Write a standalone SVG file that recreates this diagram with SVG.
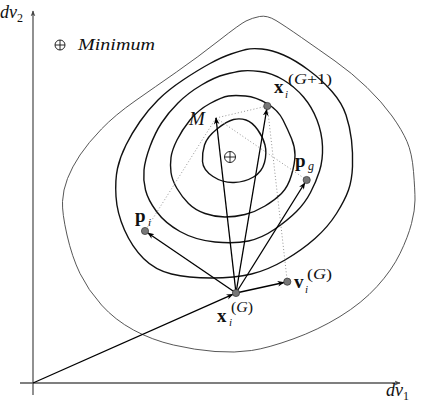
<svg xmlns="http://www.w3.org/2000/svg" width="432" height="406" viewBox="0 0 432 406">
<style>
.c{fill:none;stroke:#111;stroke-width:1.4;stroke-linejoin:round}
.co{fill:none;stroke:#444;stroke-width:0.9;stroke-linejoin:round}
.ax{stroke:#555;stroke-width:1.3;fill:none}
.ar{stroke:#000;stroke-width:1.3;fill:none}
.dt{stroke:#888;stroke-width:0.9;stroke-dasharray:1 2.2;fill:none}
.dot{fill:#777;stroke:#333;stroke-width:0.7}
.t{font-family:"Liberation Serif",serif;fill:#111}
.b{font-weight:bold;font-size:19px}
.i{font-style:italic}
</style>
<defs>
<marker id="ah" viewBox="0 0 10 10" refX="9" refY="5" markerWidth="7" markerHeight="7" markerUnits="userSpaceOnUse" orient="auto"><path d="M0,1 L10,5 L0,9 L3,5 z" fill="#000"/></marker>
<marker id="ahg" viewBox="0 0 10 10" refX="9" refY="5" markerWidth="6" markerHeight="6" markerUnits="userSpaceOnUse" orient="auto"><path d="M0,1 L10,5 L0,9 L3,5 z" fill="#444"/></marker>
</defs>
<g id="axes">
<line class="ax" x1="33" y1="395" x2="33" y2="11" marker-end="url(#ahg)"/>
<line class="ax" x1="20" y1="383" x2="400" y2="383" marker-end="url(#ahg)"/>
<text class="t i" x="0" y="18" font-size="18">dv<tspan font-style="normal" font-size="12" dy="4">2</tspan></text>
<text class="t i" x="386" y="396" font-size="18">dv<tspan font-style="normal" font-size="12" dy="4">1</tspan></text>
</g>
<g id="legend">
<circle cx="60" cy="45" r="5" fill="none" stroke="#111" stroke-width="0.9"/>
<path d="M55,45 H65 M60,40 V50" stroke="#111" stroke-width="0.9"/>
<text class="t i" x="78" y="50" font-size="17" textLength="77" lengthAdjust="spacingAndGlyphs">Minimum</text>
</g>
<g id="contours">
<path class="co" d="M276,20.5 Q285,26 301.5,37.5 Q318,49 335,61 Q352,73 367,87.5 Q382,102 392,116 Q402,130 407,141.5 Q412,153 413.5,171.5 Q415,190 415,200 Q415,210 411.5,223.5 Q408,237 400,253.5 Q392,270 377,286.5 Q362,303 340,316.5 Q318,330 293,339 Q268,348 251.5,350.5 Q235,353 215,351.5 Q195,350 173.5,345 Q152,340 133.5,330 Q115,320 101.5,305 Q88,290 80,273.5 Q72,257 67,235 Q62,213 62.5,201.5 Q63,190 67.5,178.5 Q72,167 80,155 Q88,143 101.5,129 Q115,115 135,101 Q155,87 176.5,72 Q198,57 219,40.5 Q240,24 246,21 Q252,18 259.5,16.5 Q267,15 276,20.5 Z"/>
<path class="c" d="M262,49 Q272,50 283.5,55 Q295,60 308.5,70 Q322,80 332,91.5 Q342,103 346,115 Q350,127 351.5,140 Q353,153 352.5,166.5 Q352,180 348.5,190 Q345,200 336.5,213.5 Q328,227 315,238.5 Q302,250 285,260 Q268,270 251.5,274 Q235,278 211.5,278 Q188,278 171.5,274 Q155,270 143.5,258.5 Q132,247 124.5,230 Q117,213 116,196.5 Q115,180 117.5,168.5 Q120,157 126,145 Q132,133 140,121.5 Q148,110 158,100 Q168,90 183,80 Q198,70 210,63.5 Q222,57 231,54 Q240,51 246,49.5 Q252,48 262,49 Z"/>
<path class="c" d="M260,71.5 Q272,73 283.5,80 Q295,87 303.5,97 Q312,107 317,120 Q322,133 322.5,146.5 Q323,160 319.5,171 Q316,182 310.5,192.5 Q305,203 296.5,211.5 Q288,220 275,229 Q262,238 248.5,241 Q235,244 215,242 Q195,240 180,231.5 Q165,223 156.5,211.5 Q148,200 145.5,190 Q143,180 144,170 Q145,160 150,146.5 Q155,133 161.5,123 Q168,113 178,103 Q188,93 201.5,85 Q215,77 225,74.5 Q235,72 241.5,71 Q248,70 260,71.5 Z"/>
<path class="c" d="M245.5,96 Q256,97 267,103.5 Q278,110 283,120 Q288,130 291.5,138.5 Q295,147 295,155 Q295,163 291.5,175 Q288,187 281.5,193.5 Q275,200 265,206 Q255,212 245,214.5 Q235,217 225,217 Q215,217 205,213.5 Q195,210 188.5,203.5 Q182,197 177,188.5 Q172,180 171,172.5 Q170,165 171,157.5 Q172,150 177,140 Q182,130 190,120 Q198,110 210,103.5 Q222,97 228.5,96 Q235,95 245.5,96 Z"/>
<path class="c" d="M233.5,119.5 Q240,118 246,120 Q252,122 257.5,129.5 Q263,137 265,145 Q267,153 264.5,162.5 Q262,172 253.5,177 Q245,182 234,182.5 Q223,183 213,176.5 Q203,170 202.5,161.5 Q202,153 204.5,145 Q207,137 217,129 Q227,121 233.5,119.5 Z"/>
</g>
<g id="minimum">
<circle cx="230" cy="157" r="5.5" fill="none" stroke="#111" stroke-width="0.9"/>
<path d="M224.5,157 H235.5 M230,151.5 V162.5" stroke="#111" stroke-width="0.9"/>
</g>
<g id="connectors">
<line class="dt" x1="216" y1="118" x2="267.3" y2="106"/>
<line class="dt" x1="216" y1="118" x2="145" y2="231"/>
<line class="dt" x1="216" y1="118" x2="306.7" y2="180"/>
<line class="dt" x1="267.3" y1="106" x2="287.3" y2="281.7"/>
<line class="ar" x1="33" y1="383" x2="232.8" y2="294.4" marker-end="url(#ah)"/>
<line class="ar" x1="236" y1="293" x2="147.9" y2="233" marker-end="url(#ah)"/>
<line class="ar" x1="236" y1="293" x2="304.8" y2="183" marker-end="url(#ah)"/>
<line class="ar" x1="236" y1="293" x2="283.9" y2="282.5" marker-end="url(#ah)"/>
<line class="ar" x1="236" y1="293" x2="266.7" y2="109.5" marker-end="url(#ah)"/>
<line class="ar" x1="236" y1="293" x2="216" y2="118" marker-end="url(#ah)"/>
</g>
<g id="node-xG">
<circle class="dot" cx="236" cy="293" r="3.6"/>
<text class="t b" x="217" y="322">x</text>
<text class="t i" x="229" y="326" font-size="11">i</text>
<text class="t" x="231" y="312" font-size="14" textLength="22" lengthAdjust="spacingAndGlyphs">(<tspan font-style="italic">G</tspan>)</text>
</g>
<g id="node-pi">
<circle class="dot" cx="145" cy="231" r="3.6"/>
<text class="t b" x="135" y="222">p</text>
<text class="t i" x="148" y="226" font-size="11">i</text>
</g>
<g id="node-pg">
<circle class="dot" cx="306.7" cy="180" r="3.6"/>
<text class="t b" x="295" y="167">p</text>
<text class="t i" x="308" y="170" font-size="12">g</text>
</g>
<g id="node-vG">
<circle class="dot" cx="287.3" cy="281.7" r="3.6"/>
<text class="t b" x="294" y="288">v</text>
<text class="t i" x="305" y="293" font-size="11">i</text>
<text class="t" x="307" y="279" font-size="14" textLength="25" lengthAdjust="spacingAndGlyphs">(<tspan font-style="italic">G</tspan>)</text>
</g>
<g id="node-xG1">
<circle class="dot" cx="267.3" cy="106" r="3.6"/>
<text class="t b" x="274" y="93">x</text>
<text class="t i" x="285" y="98" font-size="11">i</text>
<text class="t" x="288" y="84" font-size="14" textLength="44" lengthAdjust="spacingAndGlyphs">(<tspan font-style="italic">G</tspan>+1)</text>
</g>
<g id="node-M">
<text class="t i" x="189" y="125" font-size="19">M</text>
</g>
</svg>
